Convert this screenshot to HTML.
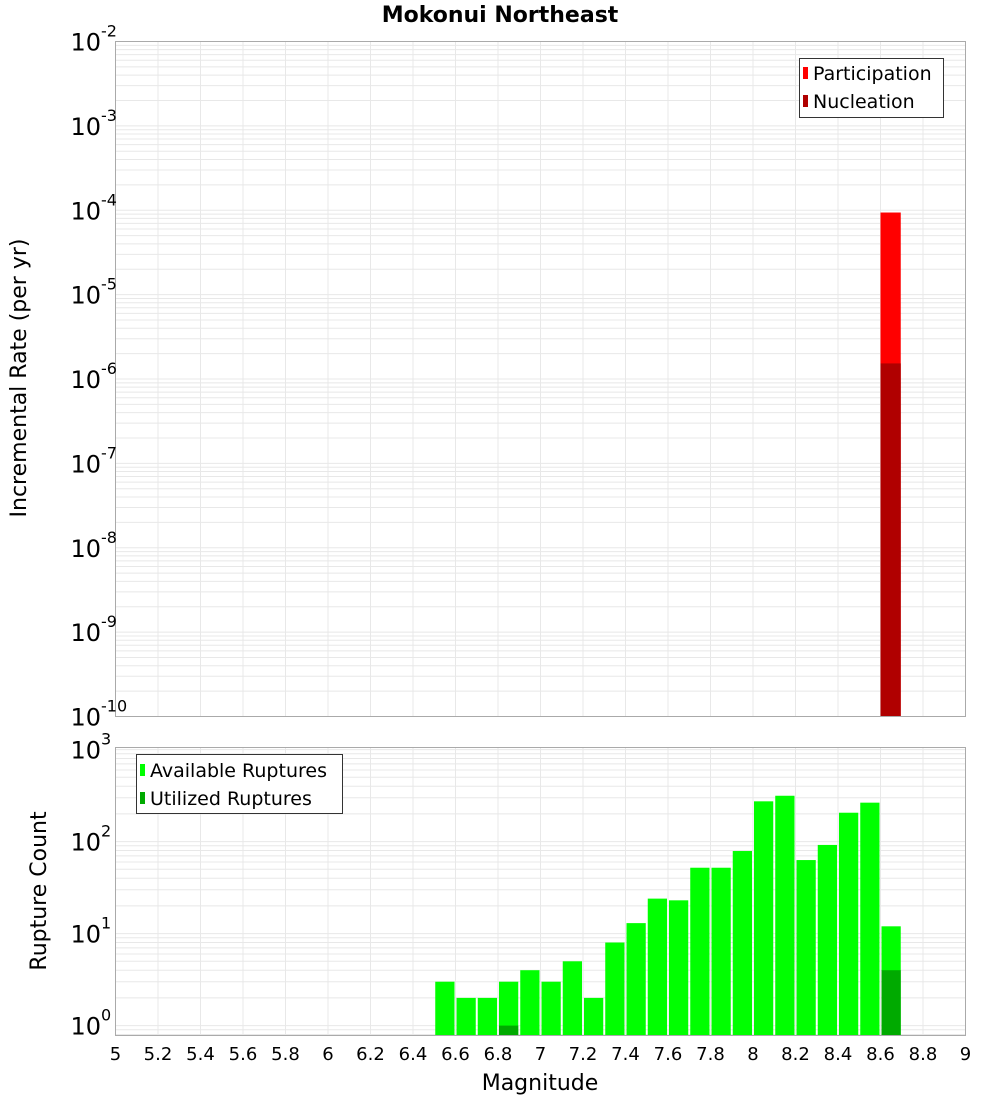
<!DOCTYPE html>
<html><head><meta charset="utf-8"><style>
body{margin:0;background:#fff;}
svg{display:block;font-family:"DejaVu Sans","Liberation Sans",sans-serif;}
</style></head><body>
<svg id="chart" width="1000" height="1100" xmlns="http://www.w3.org/2000/svg">
<text x="500" y="22" text-anchor="middle" font-size="22" font-weight="bold">Mokonui Northeast</text>
<g id="topPanel"></g>
<g id="botPanel"></g>
<text transform="translate(26,378) rotate(-90)" text-anchor="middle" font-size="22">Incremental Rate (per yr)</text>
<text transform="translate(46,891) rotate(-90)" text-anchor="middle" font-size="22">Rupture Count</text>
<text x="540" y="1090" text-anchor="middle" font-size="22">Magnitude</text>
<g>
<rect x="799.5" y="58.5" width="144" height="59" fill="#fff" stroke="#333"/>
<rect x="803" y="67" width="5" height="12" fill="#ff0000"/>
<text x="813" y="80" font-size="19">Participation</text>
<rect x="803" y="95" width="5" height="12" fill="#b00000"/>
<text x="813" y="108" font-size="19">Nucleation</text>
</g>
<g>
<rect x="136.5" y="754.5" width="206" height="59" fill="#fff" stroke="#333"/>
<rect x="140" y="764" width="5" height="12" fill="#00ff00"/>
<text x="150" y="777" font-size="19">Available Ruptures</text>
<rect x="140" y="792" width="5" height="12" fill="#00aa00"/>
<text x="150" y="805" font-size="19">Utilized Ruptures</text>
</g>
</svg>
<script>
const mags = [6.55,6.65,6.75,6.85,6.95,7.05,7.15,7.25,7.35,7.45,7.55,7.65,7.75,7.85,7.95,8.05,8.15,8.25,8.35,8.45,8.55,8.65];
const available = [3,2,2,3,4,3,5,2,8,13,24,23,52,52,79,274,315,63,92,206,265,12];
const utilized = [0,0,0,1,0,0,0,0,0,0,0,0,0,0,0,0,0,0,0,0,0,4];
const rateMags = [8.65];
const participation = [9.4e-5];
const nucleation = [1.53e-6];
const xTicks = [5,5.2,5.4,5.6,5.8,6,6.2,6.4,6.6,6.8,7,7.2,7.4,7.6,7.8,8,8.2,8.4,8.6,8.8,9];
const topExps = [-10,-9,-8,-7,-6,-5,-4,-3,-2];
const botExps = [0,1,2,3];

const NS="http://www.w3.org/2000/svg";
const X0=115.5,X1=965.5;
const xs=m=>X0+(m-5)/4*(X1-X0);
const T0=41.5,T1=716.5;
const ty=v=>T0+(-2-Math.log10(v))/8*(T1-T0);
const B0=747.5,B1=1035.5,BD=92,BONE=1025.6;
const by=v=>BONE-Math.log10(v)*BD;
function mk(p,tag,a){const e=document.createElementNS(NS,tag);for(const k in a)e.setAttribute(k,a[k]);p.appendChild(e);return e;}
const topG=document.getElementById('topPanel'),botG=document.getElementById('botPanel');

function panel(g,y0,y1,ysc,lo,hi){
  mk(g,'rect',{x:X0,y:y0,width:X1-X0,height:y1-y0,fill:'#fff'});
  for(const t of xTicks){const l=mk(g,'line',{x1:xs(t),x2:xs(t),y1:y0,y2:y1,stroke:'#e8e8e8'});
    
    }
  for(let e=lo;e<=hi;e++)for(let k=1;k<10;k++){const v=k*Math.pow(10,e);const y=ysc(v);if(y<y0||y>y1)continue;
    const l=mk(g,'line',{x1:X0,x2:X1,y1:y,y2:y,stroke:'#e8e8e8'});
    
    }
}
panel(topG,T0,T1,ty,-10,-3);
panel(botG,B0,B1,by,-1,3);

const bw=(X1-X0)/40;
rateMags.forEach((m,i)=>{
  const x=xs(m)-bw/2;
  const p=mk(topG,'rect',{x:x,y:ty(participation[i]),width:bw-1,height:T1-ty(participation[i]),fill:'#ff0000'});
  
  
  const n=mk(topG,'rect',{x:x,y:ty(nucleation[i]),width:bw-1,height:T1-ty(nucleation[i]),fill:'#b00000'});
  
  
});
mags.forEach((m,i)=>{
  const x=xs(m)-bw/2+1;
  const a=mk(botG,'rect',{x:x,y:by(available[i]),width:bw-2,height:B1-by(available[i]),fill:'#00ff00'});
  
  
  if(utilized[i]>0){const u=mk(botG,'rect',{x:x,y:by(utilized[i]),width:bw-2,height:B1-by(utilized[i]),fill:'#00aa00'});
    
    }
});
mk(topG,'rect',{x:X0,y:T0,width:X1-X0,height:T1-T0,fill:'none',stroke:'#aaa'});
mk(botG,'rect',{x:X0,y:B0,width:X1-X0,height:B1-B0,fill:'none',stroke:'#aaa'});

function ylab(g,y,e){
  const t=mk(g,'text',{x:101,y:y+9,'text-anchor':'end','font-size':24});
  
  
  t.textContent='10';
  const s=mk(g,'text',{x:101,y:y-5,'font-size':16});
  
  
  s.textContent=String(e);
}
topExps.forEach(e=>ylab(topG,ty(Math.pow(10,e)),e));
botExps.forEach(e=>ylab(botG,by(Math.pow(10,e)),e));
xTicks.forEach(t=>{const l=mk(botG,'text',{x:xs(t),y:1060,'text-anchor':'middle','font-size':18});
  
  
  l.textContent=String(t);});
</script>
</body></html>
